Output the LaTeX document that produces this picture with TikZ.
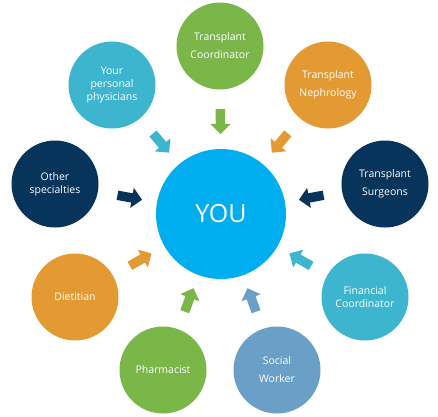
\documentclass[tikz,border=0pt]{standalone}
\usepackage{fontspec}
\setsansfont{Open Sans}
\usepackage{tikz}
\usetikzlibrary{shapes.arrows}
\definecolor{youblue}{HTML}{00AEEF}
\definecolor{cgreen}{HTML}{7AB648}
\definecolor{cteal}{HTML}{3DB5CF}
\definecolor{corange}{HTML}{E39A32}
\definecolor{cnavy}{HTML}{06345A}
\definecolor{csteel}{HTML}{6A9FC7}

\begin{document}
\begin{tikzpicture}[x=1pt, y=-1pt,
    member/.style={circle, fill=#1, minimum size=87pt, inner sep=0pt,
        text=white, align=center, font=\sffamily\fontsize{10.5}{13}\selectfont},
    pointer/.style={single arrow, fill=#1, minimum height=25pt, inner xsep=0pt,
        inner ysep=4.5pt, single arrow head extend=5.5pt, sloped, allow upside down}]
    % Canvas
    \useasboundingbox (0,0) rectangle (438,416);

    % Centre
    \node[circle, fill=youblue, minimum size=130pt, inner sep=0pt, text=white,
        font=\sffamily\fontsize{25}{30}\selectfont] (you) at (221,214) {YOU};

    % Care team around the centre
    \node[member=cgreen] (coord) at (220,46) {Transplant\\[5pt]Coordinator};
    \node[member=cteal] (phys) at (112,85) {Your\\personal\\physicians};
    \node[member=corange] (nephro) at (328,85) {Transplant\\[5pt]Nephrology};
    \node[member=cnavy] (other) at (55,184) {Other\\specialties};
    \node[member=cnavy] (surg) at (385,184) {Transplant\\[5pt]Surgeons};
    \node[member=corange] (diet) at (75,297) {Dietitian};
    \node[member=cteal] (fin) at (365,297) {Financial\\Coordinator};
    \node[member=cgreen] (pharm) at (163,370) {Pharmacist};
    \node[member=csteel] (social) at (277,370) {Social\\[5pt]Worker};

    % Arrows pointing at the centre
    \path (coord) -- node[pointer=cgreen] (a1) {} (you);
    \path (phys) -- node[pointer=cteal] (a2) {} (you);
    \path (nephro) -- node[pointer=corange] (a3) {} (you);
    \path (other) -- node[pointer=cnavy] (a4) {} (you);
    \path (surg) -- node[pointer=cnavy] (a5) {} (you);
    \path (diet) -- node[pointer=corange] (a6) {} (you);
    \path (fin) -- node[pointer=cteal] (a7) {} (you);
    \path (pharm) -- node[pointer=cgreen] (a8) {} (you);
    \path (social) -- node[pointer=csteel] (a9) {} (you);
\end{tikzpicture}
\end{document}
